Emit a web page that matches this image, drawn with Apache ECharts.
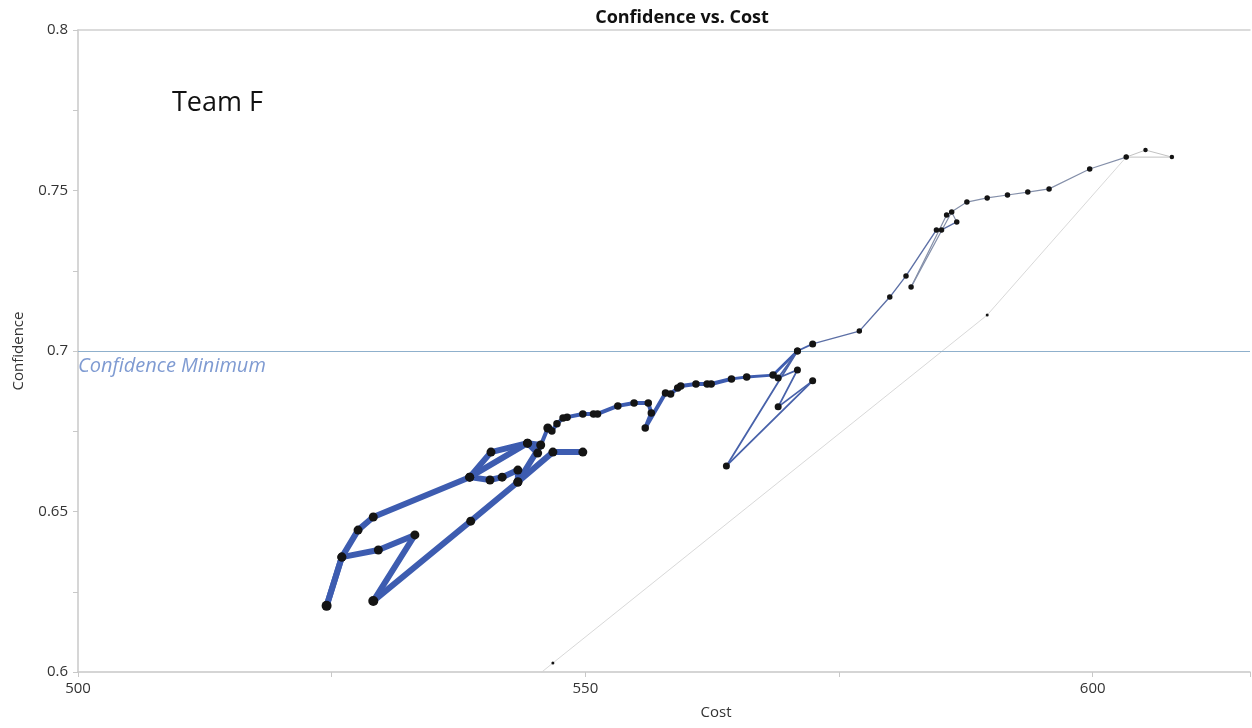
<!DOCTYPE html>
<html>
<head>
<meta charset="utf-8">
<title>Confidence vs. Cost</title>
<script src="https://cdn.jsdelivr.net/npm/echarts@6/dist/echarts.min.js"></script>
<style>
  html, body { margin: 0; padding: 0; background: #ffffff; }
  #chart { width: 1252px; height: 728px; }
</style>
</head>
<body>
<div id="chart"></div>
<script>
// Team F trajectory, in visiting order
const cost = [
  549.75, 546.8, 543.35, 538.7, 529.1, 533.2, 529.6, 526.0, 524.5, 526.0,
  527.6, 529.1, 538.6, 540.7, 544.3, 545.6, 543.35, 543.35, 541.8, 540.6,
  538.6, 544.3, 545.3, 546.3, 546.7, 547.2, 547.8, 548.2, 549.75, 550.8,
  551.2, 553.2, 554.8, 556.2, 556.5, 555.9, 557.9, 558.4, 559.1, 559.4,
  560.9, 562.0, 562.4, 564.4, 565.9, 568.5, 570.9, 569.0, 570.9, 569.0,
  572.4, 563.9, 570.9, 572.4, 577.0, 580.0, 581.6, 584.6, 585.1, 586.6,
  586.1, 582.1, 585.6, 587.6, 589.6, 591.6, 593.6, 595.7, 599.7, 603.3,
  605.2, 607.8, 603.3, 589.6, 546.8, 544.0
];
const confidence = [
  0.6685, 0.6685, 0.6592, 0.6470, 0.6221, 0.6427, 0.6380, 0.6358, 0.6206, 0.6358,
  0.6442, 0.6483, 0.6607, 0.6685, 0.6713, 0.6707, 0.6592, 0.6629, 0.6607, 0.6598,
  0.6607, 0.6713, 0.6682, 0.6760, 0.6751, 0.6773, 0.6791, 0.6794, 0.6804, 0.6804,
  0.6804, 0.6829, 0.6838, 0.6838, 0.6807, 0.6760, 0.6869, 0.6866, 0.6885, 0.6891,
  0.6897, 0.6897, 0.6897, 0.6913, 0.6919, 0.6925, 0.7000, 0.6916, 0.6941, 0.6826,
  0.6907, 0.6642, 0.7000, 0.7022, 0.7062, 0.7168, 0.7234, 0.7377, 0.7377, 0.7402,
  0.7433, 0.7199, 0.7424, 0.7464, 0.7477, 0.7486, 0.7495, 0.7505, 0.7567, 0.7604,
  0.7626, 0.7604, 0.7604, 0.7112, 0.6028, 0.5956
];
const confidenceMinimum = 0.7;
const xTicks = { min: 500, max: 615.5, step: 50 };
const yTicks = { min: 0.6, max: 0.8, step: 0.05 };

// the trail gets thinner and paler as the team moves along it
function segmentStyle(s) {
  if (s <= 21) return { width: 6, color: '#3d5cb0' };
  if (s <= 42) return { width: 4, color: '#3d5cb0' };
  if (s <= 45) return { width: 2.8, color: '#3f5daf' };
  if (s <= 52) return { width: 1.8, color: '#4862aa' };
  if (s <= 58) return { width: 1.4, color: '#5d70a6' };
  if (s <= 68) return { width: 1.2, color: '#8590aa' };
  if (s <= 71) return { width: 1, color: '#c2c2c2' };
  return { width: 0.9, color: '#d4d4d4' };
}
function dotSize(k) {
  if (k === 4 || k === 8) return 10;
  if (k <= 23) return 9;
  if (k <= 45) return 7.5;
  if (k <= 53) return 7;
  if (k <= 69) return 5.5;
  if (k <= 72) return 4.5;
  return 3;
}

const points = cost.map((c, i) => [c, confidence[i]]);
const series = [];
for (let s = 0; s < points.length - 1; s++) {
  const st = segmentStyle(s);
  series.push({
    type: 'line',
    data: [points[s], points[s + 1]],
    showSymbol: false,
    silent: true,
    clip: true,
    z: 2,
    lineStyle: { width: st.width, color: st.color, cap: 'round', join: 'round' }
  });
}
// points that lie inside the plotted range
const visible = points.filter(p => p[1] >= yTicks.min);
const minimumLineStyle = { color: '#8fb0cc', width: 1, type: 'solid', opacity: 1 };
series.push({
  type: 'scatter',
  data: visible,
  silent: true,
  z: 5,
  symbolSize: (v, p) => dotSize(p.dataIndex),
  itemStyle: { color: '#141414', opacity: 1 },
  markLine: {
    silent: true,
    symbol: ['none', 'none'],
    lineStyle: minimumLineStyle,
    label: {
      show: true,
      formatter: 'Confidence Minimum',
      position: 'insideStartBottom',
      distance: [0, 5],
      color: '#7f9bd2',
      fontStyle: 'italic',
      fontFamily: 'Open Sans',
      fontSize: 20
    },
    data: [{ yAxis: confidenceMinimum, lineStyle: minimumLineStyle }]
  }
});

const chart = echarts.init(document.getElementById('chart'), null, { renderer: 'canvas' });
chart.setOption({
  animation: false,
  backgroundColor: '#ffffff',
  title: {
    text: 'Confidence vs. Cost',
    left: 677,
    top: 4,
    textAlign: 'center',
    textStyle: { fontFamily: 'Open Sans', fontWeight: 'bold', fontSize: 18, color: '#111' }
  },
  grid: { left: 78, right: 2, top: 30, bottom: 56, containLabel: false },
  xAxis: [{
    type: 'value',
    min: xTicks.min, max: xTicks.max, interval: xTicks.step,
    name: 'Cost',
    nameLocation: 'middle',
    nameGap: 33,
    nameTextStyle: { fontFamily: 'Open Sans', fontSize: 15, color: '#333', padding: [0, 0, 0, 104] },
    axisLine: { show: true, lineStyle: { color: '#c8c8c8', width: 1.5 } },
    axisTick: { show: true, inside: false, length: 5, lineStyle: { color: '#c8c8c8' } },
    minorTick: { show: true, splitNumber: 2, length: 5, lineStyle: { color: '#c8c8c8' } },
    splitLine: { show: false },
    axisLabel: { fontFamily: 'Open Sans', fontSize: 15, color: '#333', margin: 9, showMaxLabel: false }
  }, {
    type: 'value',
    position: 'top',
    min: xTicks.min, max: xTicks.max,
    axisLine: { show: true, lineStyle: { color: '#d0d0d0', width: 1.5 } },
    axisTick: { show: false },
    axisLabel: { show: false },
    splitLine: { show: false }
  }],
  yAxis: {
    type: 'value',
    min: yTicks.min, max: yTicks.max, interval: yTicks.step,
    name: 'Confidence',
    nameLocation: 'middle',
    nameGap: 52,
    nameTextStyle: { fontFamily: 'Open Sans', fontSize: 15, color: '#333' },
    axisLine: { show: true, lineStyle: { color: '#c8c8c8', width: 1.5 } },
    axisTick: { show: true, inside: false, length: 5, lineStyle: { color: '#c8c8c8' } },
    minorTick: { show: true, splitNumber: 2, length: 5, lineStyle: { color: '#c8c8c8' } },
    splitLine: { show: false },
    axisLabel: {
      fontFamily: 'Open Sans', fontSize: 15, color: '#333', margin: 10,
      formatter: v => String(+v.toFixed(3))
    }
  },
  graphic: [{
    type: 'text',
    left: 172,
    top: 90,
    style: { text: 'Team F', fontFamily: 'Open Sans', fontSize: 27, fill: '#111' }
  }],
  series: series
});
</script>
</body>
</html>
